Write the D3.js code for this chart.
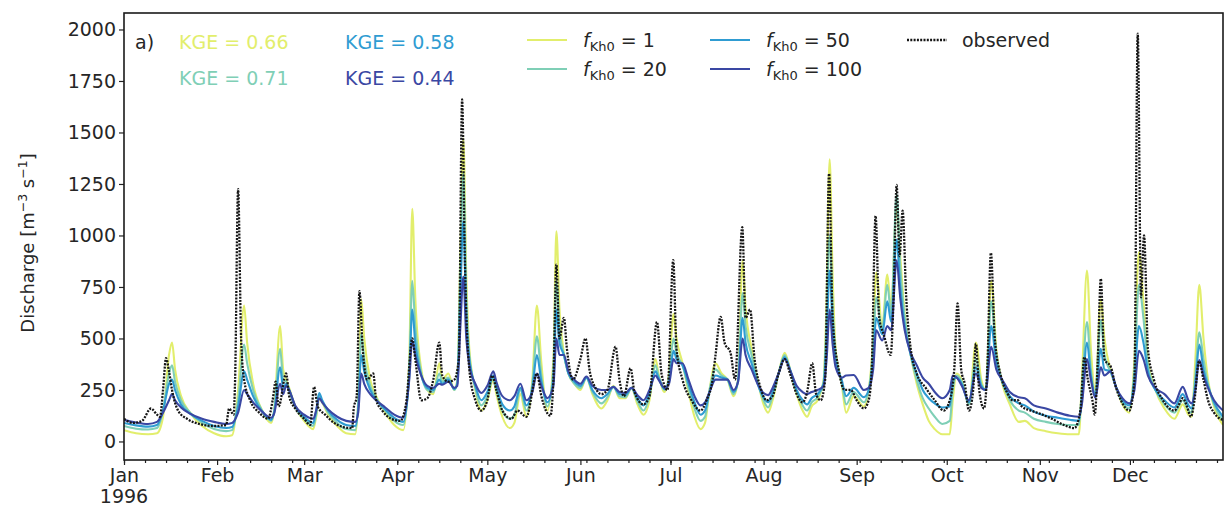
<!DOCTYPE html>
<html>
<head>
<meta charset="utf-8">
<script src="https://cdn.jsdelivr.net/npm/d3@7"></script>
<style>
  html, body { margin: 0; padding: 0; background: #fff; }
  svg { display: block; font-family: "DejaVu Sans", sans-serif; }
</style>
</head>
<body>
<svg id="chart" width="1226" height="506"></svg>
<script>
// ---- daily discharge, 1996 (day of year, 0 = 1 Jan) ----
// simulated runs share one set of sample days
const simDay = [
  0, 4, 8, 11, 13, 15, 16, 17, 19, 22, 26, 30, 34, 36, 38, 40, 41, 43, 46, 49,
  50, 52, 53, 54, 55, 57, 60, 63, 64, 65, 66, 68, 71, 74, 77, 78, 79, 80, 82, 84,
  87, 90, 93, 95, 96, 97, 99, 101, 103, 105, 106, 108, 110, 111, 112, 113, 114, 115, 117, 119,
  121, 123, 124, 126, 128.5, 130, 132, 134, 136, 137.5, 139, 141, 143, 144, 145, 146.5, 148, 150, 152, 154,
  156, 159, 161, 163, 165, 167, 169, 171, 173, 175, 177, 178, 180, 181.5, 183, 184, 186, 188, 190, 192,
  193.5, 195, 197, 199, 201, 203, 204.5, 206, 207, 209, 211, 213, 214.5, 216, 218, 220, 222, 224, 226, 227.5,
  229, 231, 233, 234, 235, 236, 237, 239, 240.5, 243, 246.4, 248, 249.5, 250.5, 252.5, 254.2, 255.5, 257.3, 258.5, 260,
  262, 264, 266, 268, 270, 272.5, 275, 276, 277.3, 279, 281.4, 283.7, 285.5, 287, 288.8, 290.5, 292.5, 295, 298, 300,
  303, 307, 311, 315, 318, 319, 320.7, 322, 323.5, 325.3, 326.5, 328.5, 330.5, 332.5, 334.8, 336.5, 338, 339.5, 341, 343.5,
  346.5, 349.8, 352.6, 354.5, 355.5, 356.8, 358.1, 359.5, 361, 363, 366
];
const qKh1 = [
  55, 40, 35, 40, 120, 420, 480, 350, 220, 140, 75, 40, 25, 30, 250, 660, 480, 280, 150, 90,
  150, 560, 350, 300, 260, 170, 100, 60, 120, 210, 190, 130, 75, 40, 35, 200, 690, 500, 300, 220,
  140, 80, 55, 400, 1130, 700, 350, 250, 230, 380, 300, 330, 250, 300, 900, 1470, 800, 450, 250, 150,
  200, 300, 230, 120, 65, 90, 230, 120, 300, 660, 380, 150, 400, 1020, 650, 430, 330, 280, 250, 310,
  230, 160, 200, 270, 210, 210, 260, 180, 130, 200, 400, 330, 240, 330, 620, 500, 380, 240, 120, 60,
  90, 250, 380, 330, 300, 220, 300, 880, 650, 450, 300, 180, 140, 200, 330, 430, 340, 230, 150, 120,
  170, 200, 300, 700, 1370, 800, 450, 280, 140, 220, 170, 250, 500, 820, 560, 810, 650, 1150, 900, 620,
  420, 280, 180, 100, 60, 35, 35, 200, 330, 300, 180, 480, 300, 250, 780, 450, 280, 180, 95, 100,
  65, 50, 40, 35, 35, 300, 830, 450, 250, 690, 500, 350, 260, 180, 140, 400, 920, 680, 400, 250,
  160, 110, 180, 130, 120, 400, 760, 500, 300, 170, 80
];
const qKh20 = [
  75, 62, 58, 65, 150, 330, 370, 290, 200, 140, 90, 60, 50, 55, 200, 470, 380, 250, 150, 100,
  150, 450, 300, 290, 250, 170, 110, 75, 130, 220, 195, 140, 90, 60, 55, 180, 520, 400, 270, 210,
  150, 100, 80, 350, 780, 560, 330, 250, 240, 330, 290, 310, 250, 290, 800, 1300, 700, 420, 260, 175,
  220, 310, 250, 150, 110, 130, 250, 150, 280, 510, 320, 170, 350, 780, 550, 420, 330, 280, 260, 310,
  240, 185, 215, 265, 220, 215, 260, 195, 150, 220, 370, 320, 250, 310, 500, 430, 370, 260, 160, 100,
  120, 250, 350, 320, 300, 230, 300, 720, 560, 420, 290, 200, 165, 220, 330, 420, 340, 240, 175, 150,
  190, 215, 290, 600, 1000, 650, 420, 290, 180, 240, 190, 250, 450, 700, 540, 760, 620, 1200, 850, 600,
  420, 300, 210, 160, 120, 85, 100, 250, 320, 290, 180, 400, 280, 250, 680, 420, 290, 200, 150, 140,
  110, 95, 85, 80, 80, 250, 580, 350, 230, 590, 420, 340, 260, 190, 160, 350, 760, 600, 370, 250,
  180, 140, 200, 150, 140, 320, 530, 400, 280, 180, 100
];
const qKh50 = [
  90, 78, 72, 80, 150, 280, 300, 250, 180, 135, 100, 75, 65, 70, 170, 340, 300, 220, 145, 105,
  140, 360, 260, 280, 250, 170, 120, 90, 150, 235, 200, 150, 105, 80, 75, 160, 420, 340, 250, 200,
  155, 115, 95, 320, 640, 480, 320, 260, 250, 300, 280, 300, 255, 280, 700, 1070, 600, 400, 270, 200,
  240, 320, 270, 180, 150, 170, 260, 175, 260, 420, 290, 190, 300, 640, 480, 420, 330, 290, 270, 310,
  250, 210, 230, 265, 230, 225, 260, 210, 175, 240, 340, 310, 255, 290, 440, 400, 370, 280, 190, 130,
  150, 240, 320, 310, 300, 240, 290, 600, 480, 380, 280, 215, 190, 240, 330, 410, 340, 250, 200, 180,
  210, 230, 280, 500, 830, 560, 390, 300, 220, 260, 215, 250, 400, 600, 520, 680, 580, 980, 750, 560,
  420, 330, 250, 210, 185, 165, 170, 300, 310, 280, 190, 360, 270, 250, 560, 380, 290, 220, 185, 175,
  145, 125, 115, 105, 100, 200, 480, 320, 220, 450, 350, 340, 260, 200, 175, 300, 560, 480, 340, 250,
  200, 165, 230, 175, 160, 280, 470, 350, 270, 190, 120
];
const qKh100 = [
  105, 92, 85, 95, 140, 200, 230, 200, 165, 135, 110, 95, 85, 90, 140, 250, 230, 190, 145, 115,
  135, 280, 230, 270, 250, 175, 130, 110, 150, 210, 190, 155, 120, 100, 95, 140, 330, 280, 230, 200,
  165, 130, 115, 300, 490, 420, 320, 270, 260, 280, 275, 290, 260, 270, 550, 800, 500, 370, 280, 235,
  270, 340, 290, 220, 200, 220, 280, 200, 240, 330, 270, 210, 270, 500, 420, 420, 340, 300, 280, 315,
  270, 250, 250, 265, 240, 235, 260, 225, 200, 250, 320, 300, 260, 280, 400, 380, 380, 300, 220, 175,
  190, 240, 300, 300, 300, 250, 290, 500, 420, 350, 280, 235, 225, 260, 330, 400, 340, 270, 240, 230,
  240, 250, 270, 400, 640, 470, 360, 310, 320, 323, 250, 260, 350, 540, 490, 560, 540, 880, 700, 540,
  430, 370, 310, 280, 240, 210, 250, 320, 310, 270, 200, 330, 260, 250, 460, 350, 300, 240, 215, 210,
  175, 160, 140, 125, 120, 180, 400, 300, 210, 360, 320, 340, 260, 210, 185, 250, 440, 400, 320, 260,
  230, 185, 265, 200, 185, 250, 395, 320, 260, 200, 150
];

// observed discharge
const obsDay = [
  0, 3, 6, 9, 11, 12, 13, 14, 15, 16, 18, 21, 25, 30, 34, 35, 36.5, 37, 38, 39,
  40, 42, 45, 48, 49.5, 50.5, 51.5, 54, 55, 57, 60, 62, 63.3, 64.5, 67, 70, 73, 76, 76.5, 77.5,
  78.4, 79.5, 81, 83, 84, 86, 89, 92, 94, 96, 97, 99, 101, 103, 105, 106, 108, 110, 111.5, 112.6,
  113.5, 115, 117, 119, 121, 122.6, 124, 126, 129, 131, 134, 137.5, 139, 142, 143, 144, 145, 146.5, 147.5, 149.5,
  152, 153.7, 155, 157, 159, 161, 163.7, 165, 166.5, 168.7, 170, 173, 175, 177.5, 179, 181, 182.9, 184, 186, 189,
  192, 194, 196, 197, 198.7, 200, 202, 203.5, 205.9, 207, 208.5, 210, 212, 214, 216, 218, 220, 222, 224, 226,
  227.5, 229.2, 230.5, 232, 233.5, 234.8, 236, 238, 240, 242, 244, 246.4, 248, 249, 250.3, 251.5, 253, 255.3, 256.3, 257.3,
  258.3, 259.3, 260.5, 262, 264, 267, 270, 273, 275, 276.5, 277.6, 278.8, 280, 281.4, 282.8, 283.7, 284.8, 286.4, 287.5, 288.7,
  290, 292, 294, 296, 297.6, 299, 302, 305, 309, 313, 316.5, 318.5, 319.8, 321, 322.5, 323.3, 324.3, 325.3, 326.5, 328.7,
  330, 332, 334.8, 336.5, 337.6, 338.7, 339.7, 341, 343, 346, 349.8, 351, 352.6, 354, 355.3, 356.5, 358, 359.5, 361, 363,
  365, 366
];
const qObs = [
  110, 90, 100, 160, 130, 120, 250, 405, 340, 250, 150, 110, 85, 75, 80, 160, 130, 300, 1225, 500,
  300, 200, 140, 110, 200, 290, 170, 330, 220, 160, 110, 80, 265, 170, 130, 90, 70, 65, 160, 220,
  730, 450, 300, 330, 200, 150, 110, 100, 190, 500, 400, 200, 210, 300, 480, 320, 290, 300, 400, 1660,
  900, 350, 200, 150, 200, 320, 250, 150, 110, 150, 120, 330, 220, 125, 300, 860, 500, 600, 450, 300,
  400, 500, 350, 260, 230, 250, 460, 300, 220, 355, 240, 180, 220, 580, 330, 250, 880, 450, 300, 200,
  150, 200, 300, 420, 605, 480, 430, 300, 1040, 600, 640, 400, 260, 200, 220, 330, 400, 320, 230, 190,
  240, 380, 230, 200, 300, 1300, 600, 350, 250, 250, 200, 160, 200, 350, 1095, 600, 520, 420, 700, 1245,
  900, 1120, 700, 450, 330, 260, 200, 150, 200, 350, 670, 350, 280, 150, 250, 475, 250, 160, 350, 915,
  500, 320, 240, 200, 200, 170, 150, 135, 110, 80, 65, 150, 410, 300, 200, 130, 400, 790, 400, 360,
  280, 200, 150, 300, 1980, 700, 1000, 450, 300, 200, 150, 170, 210, 170, 120, 200, 390, 300, 200, 140,
  110, 105
];

const runs = [
  { label: "1",   values: qKh1,   color: "#e2ee6c", kge: "0.66" },
  { label: "20",  values: qKh20,  color: "#7fcfb6", kge: "0.71" },
  { label: "50",  values: qKh50,  color: "#2f9cd2", kge: "0.58" },
  { label: "100", values: qKh100, color: "#3a47a3", kge: "0.44" }
];
const monthLabels = ["Jan", "Feb", "Mar", "Apr", "May", "Jun", "Jul", "Aug", "Sep", "Oct", "Nov", "Dec"];
const yTicks = [0, 250, 500, 750, 1000, 1250, 1500, 1750, 2000];
const year = 1996;

// ---- layout ----
const svg = d3.select("#chart");
const plot = { left: 124, right: 1223, top: 13, bottom: 460 };
const DAY = 86400000;
const t0 = Date.UTC(year, 0, 1);
const toDate = d => new Date(t0 + d * DAY);

const x = d3.scaleUtc()
  .domain([new Date(t0), new Date(Date.UTC(year + 1, 0, 1))])
  .range([plot.left, plot.right]);
const y = d3.scaleLinear().domain([-90, 2080]).range([plot.bottom, plot.top]);

svg.append("defs").append("clipPath").attr("id", "clip")
  .append("rect")
  .attr("x", plot.left).attr("y", plot.top)
  .attr("width", plot.right - plot.left).attr("height", plot.bottom - plot.top);

const line = days => d3.line()
  .x((v, i) => x(toDate(days[i])))
  .y(v => y(v))
  .curve(d3.curveMonotoneX);

const obsStroke = { color: "#161616", width: 2.3, dash: "2,1.3" };

const g = svg.append("g").attr("clip-path", "url(#clip)");
runs.forEach(r => {
  g.append("path")
    .datum(r.values)
    .attr("d", line(simDay))
    .attr("fill", "none")
    .attr("stroke", r.color)
    .attr("stroke-width", 2.1)
    .attr("stroke-linejoin", "round");
});
g.append("path")
  .datum(qObs)
  .attr("d", line(obsDay))
  .attr("fill", "none")
  .attr("stroke", obsStroke.color)
  .attr("stroke-width", obsStroke.width)
  .attr("stroke-dasharray", obsStroke.dash);

// ---- axes ----
const textColor = "#262626";
const yAxis = svg.append("g")
  .attr("transform", `translate(${plot.left},0)`)
  .call(d3.axisLeft(y).tickValues(yTicks).tickSize(5).tickPadding(3).tickFormat(d3.format("d")));
yAxis.select(".domain").remove();

const monthStarts = d3.utcMonth.range(new Date(t0), new Date(Date.UTC(year, 11, 2)));
const xMinor = svg.append("g")
  .attr("transform", `translate(0,${plot.bottom})`)
  .call(d3.axisBottom(x).tickValues(d3.utcMonday.range(new Date(t0), new Date(Date.UTC(year + 1, 0, 1))))
    .tickSize(3).tickFormat(""));
xMinor.select(".domain").remove();

const xAxis = svg.append("g")
  .attr("transform", `translate(0,${plot.bottom})`)
  .call(d3.axisBottom(x).tickValues(monthStarts).tickSize(5).tickPadding(4)
    .tickFormat((d, i) => monthLabels[i]));
xAxis.select(".domain").remove();

svg.selectAll(".tick text")
  .attr("font-size", 19)
  .attr("font-family", "DejaVu Sans, sans-serif")
  .attr("fill", textColor);
svg.selectAll(".tick line").attr("stroke", "#222").attr("stroke-width", 1.2);

// year under the first month
svg.append("text")
  .attr("x", x(new Date(t0)))
  .attr("y", 503)
  .attr("text-anchor", "middle")
  .attr("font-size", 19)
  .attr("font-family", "DejaVu Sans, sans-serif")
  .attr("fill", textColor)
  .text(String(year));

// frame
svg.append("rect")
  .attr("x", plot.left).attr("y", plot.top)
  .attr("width", plot.right - plot.left).attr("height", plot.bottom - plot.top)
  .attr("fill", "none").attr("stroke", "#1a1a1a").attr("stroke-width", 1.6);

// y label
const yl = svg.append("text")
  .attr("transform", "translate(34,243) rotate(-90)")
  .attr("text-anchor", "middle")
  .attr("font-size", 18)
  .attr("fill", textColor);
yl.append("tspan").text("Discharge [m");
yl.append("tspan").attr("font-size", 12.5).attr("dy", -7).text("\u22123");
yl.append("tspan").attr("dy", 7).text(" s");
yl.append("tspan").attr("font-size", 12.5).attr("dy", -7).text("\u22121");
yl.append("tspan").attr("dy", 7).text("]");

// panel tag and KGE scores
svg.append("text").attr("x", 135).attr("y", 49)
  .attr("font-size", 19).attr("fill", textColor).text("a)");
const kgePos = [[179, 49], [179, 85], [345, 49], [345, 85]];
runs.forEach((r, i) => {
  svg.append("text")
    .attr("x", kgePos[i][0]).attr("y", kgePos[i][1])
    .attr("font-size", 19).attr("fill", r.color)
    .text(`KGE = ${r.kge}`);
});

// legend
const legPos = [[527, 40], [527, 69], [710, 40], [710, 69]];
runs.forEach((r, i) => {
  const [lx, ly] = legPos[i];
  svg.append("line")
    .attr("x1", lx).attr("x2", lx + 40).attr("y1", ly).attr("y2", ly)
    .attr("stroke", r.color).attr("stroke-width", 2.2);
  const t = svg.append("text")
    .attr("x", lx + 56).attr("y", ly + 7)
    .attr("font-size", 19).attr("fill", textColor);
  t.append("tspan").attr("font-style", "italic").text("f");
  t.append("tspan").attr("font-size", 13).attr("dy", 4).text("Kh0");
  t.append("tspan").attr("dy", -4).text(` = ${r.label}`);
});
svg.append("line")
  .attr("x1", 907).attr("x2", 947).attr("y1", 40).attr("y2", 40)
  .attr("stroke", obsStroke.color).attr("stroke-width", obsStroke.width)
  .attr("stroke-dasharray", obsStroke.dash);
svg.append("text")
  .attr("x", 962).attr("y", 47)
  .attr("font-size", 19).attr("fill", textColor)
  .text("observed");
</script>
</body>
</html>
